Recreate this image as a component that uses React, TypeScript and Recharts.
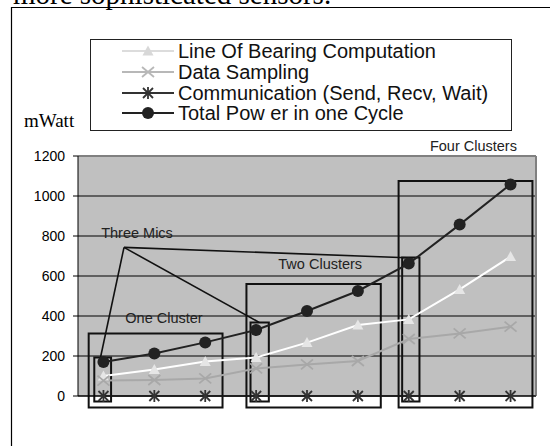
import React from 'react';
import {
  LineChart,
  Line,
  XAxis,
  YAxis,
  CartesianGrid,
  Legend,
  ReferenceArea,
  ReferenceLine,
  ReferenceDot,
} from 'recharts';

// ---- data ----
const steps = [1, 2, 3, 4, 5, 6, 7, 8, 9];
const lineOfBearing = [100, 133, 172, 193, 267, 355, 383, 533, 697];
const dataSampling = [77, 80, 88, 138, 158, 175, 285, 313, 347];
const communication = [0, 0, 0, 0, 0, 0, 0, 0, 0];
const totalPower = [170, 213, 268, 330, 425, 525, 662, 857, 1058];
const yTicks = [0, 200, 400, 600, 800, 1000, 1200];
const xTicks = [0, 1, 2, 3, 4, 5, 6, 7, 8, 9];

const seriesKeys = ['lob', 'ds', 'comm', 'total'];
const seriesNames = [
  'Line Of Bearing Computation',
  'Data Sampling',
  'Communication (Send, Recv, Wait)',
  'Total Pow er in one Cycle',
];

// annotation boxes (data coordinates)
const boxX1 = [0.32, 0.21, 3.39, 3.31, 6.37, 6.3];
const boxX2 = [0.65, 2.84, 3.75, 5.95, 6.71, 8.93];
const boxY1 = [-28, -57, -28, -57, -28, -57];
const boxY2 = [193, 313, 368, 560, 692, 1075];

// "Three Mics" pointer lines
const apex = { x: 0.904, y: 743 };
const pointerEnds = [
  { x: 0.44, y: 190 },
  { x: 3.56, y: 368 },
  { x: 6.59, y: 690 },
];

const annotationLabels = ['Three Mics', 'One Cluster', 'Two Clusters', 'Four Clusters'];
const labelX = [1.16, 1.69, 4.76, 7.77];
const labelY = [816, 391, 663, 1250];

const data = steps.map((s, i) => ({
  step: s,
  x: i + 0.5,
  lob: lineOfBearing[i],
  ds: dataSampling[i],
  comm: communication[i],
  total: totalPower[i],
}));

const FONT = '"Liberation Sans", Arial, sans-serif';
const SERIF = '"Liberation Serif", "Times New Roman", serif';

// ---- markers ----
type M = { cx: number; cy: number };
const Triangle = ({ cx, cy, fill }: M & { fill: string }) => (
  <path d={`M${cx},${cy - 5.5} L${cx + 5.5},${cy + 4.5} L${cx - 5.5},${cy + 4.5} Z`} fill={fill} />
);
const Cross = ({ cx, cy, stroke }: M & { stroke: string }) => (
  <g stroke={stroke} strokeWidth={1.8}>
    <line x1={cx - 6} y1={cy - 5} x2={cx + 6} y2={cy + 5} />
    <line x1={cx - 6} y1={cy + 5} x2={cx + 6} y2={cy - 5} />
  </g>
);
const Asterisk = ({ cx, cy, stroke }: M & { stroke: string }) => (
  <g stroke={stroke} strokeWidth={1.8}>
    <line x1={cx} y1={cy - 6} x2={cx} y2={cy + 6} />
    <line x1={cx - 5} y1={cy - 5} x2={cx + 5} y2={cy + 5} />
    <line x1={cx - 5} y1={cy + 5} x2={cx + 5} y2={cy - 5} />
  </g>
);
const Circle = ({ cx, cy, fill }: M & { fill: string }) => <circle cx={cx} cy={cy} r={6} fill={fill} />;

const markerFor = (key: string, cx: number, cy: number, legend = false) => {
  if (key === 'lob') return <Triangle cx={cx} cy={cy} fill={legend ? '#d8d8d8' : '#e6e6e6'} />;
  if (key === 'ds') return <Cross cx={cx} cy={cy} stroke={legend ? '#b8b8b8' : '#a8a8a8'} />;
  if (key === 'comm') return <Asterisk cx={cx} cy={cy} stroke="#333" />;
  return <Circle cx={cx} cy={cy} fill="#222" />;
};

const legendStroke: Record<string, string> = {
  lob: '#dcdcdc',
  ds: '#b8b8b8',
  comm: '#333',
  total: '#222',
};

const makeDot = (key: string) => (p: any) => {
  if (p.cx == null || p.cy == null) return <g key={p.index} />;
  return <g key={`${key}-${p.index}`}>{markerFor(key, p.cx, p.cy)}</g>;
};

const renderLegend = (props: any) => {
  const payload = [...(props.payload || [])].sort(
    (a: any, b: any) => seriesKeys.indexOf(String(a.dataKey)) - seriesKeys.indexOf(String(b.dataKey))
  );
  return (
    <div
      style={{
        width: '100%',
        height: '100%',
        boxSizing: 'border-box',
        border: '1px solid #222',
        background: '#fff',
        paddingTop: 1,
      }}
    >
      {payload.map((entry: any) => {
        const key = String(entry.dataKey);
        return (
          <div key={key} style={{ display: 'flex', alignItems: 'center', height: 20.7 }}>
            <svg width={52} height={20} style={{ marginLeft: 31, marginRight: 4, flex: 'none' }}>
              <line x1={0} y1={10} x2={52} y2={10} stroke={legendStroke[key]} strokeWidth={2} />
              {markerFor(key, 26, 10, true)}
            </svg>
            <span
              style={{
                fontFamily: FONT,
                fontSize: 20,
                lineHeight: '20px',
                whiteSpace: 'nowrap',
                color: '#111',
              }}
            >
              {entry.value}
            </span>
          </div>
        );
      })}
    </div>
  );
};

export default function App() {
  return (
    <div style={{ position: 'absolute', left: 0, top: 0, width: 559, height: 446, background: '#fff', overflow: 'hidden' }}>
      <svg width={559} height={446} style={{ position: 'absolute', left: 0, top: 0 }}>
        <text x={13} y={4} fontFamily={SERIF} fontSize={29} fill="#000">
          more sophisticated sensors.
        </text>
        <line x1={11.5} y1={7} x2={11.5} y2={446} stroke="#000" strokeWidth={1.2} />
        <line x1={11} y1={7.5} x2={550} y2={7.5} stroke="#000" strokeWidth={1.2} />
        <text x={24} y={127} fontFamily={SERIF} fontSize={19} fill="#000">
          mWatt
        </text>
      </svg>
      <div style={{ position: 'absolute', left: 0, top: 0 }}>
        <LineChart
          width={559}
          height={446}
          data={data}
          margin={{ top: 156, right: 23, bottom: 30, left: 0 }}
        >
          <CartesianGrid vertical={false} stroke="#000" fill="#c0c0c0" fillOpacity={1} />
          <XAxis
            type="number"
            dataKey="x"
            domain={[0, 9]}
            ticks={xTicks}
            tick={false}
            tickSize={4}
            height={20}
            axisLine={{ stroke: '#000' }}
            tickLine={{ stroke: '#000' }}
          />
          <YAxis
            type="number"
            domain={[0, 1200]}
            ticks={yTicks}
            width={78}
            tickSize={5}
            tickMargin={8}
            axisLine={{ stroke: '#000' }}
            tickLine={{ stroke: '#000' }}
            tick={{ fontFamily: FONT, fontSize: 14, fill: '#000' }}
          />
          <ReferenceLine y={1200} stroke="#808080" strokeWidth={2} />
          <ReferenceLine x={9} stroke="#808080" strokeWidth={2} />
          <Legend
            layout="vertical"
            align="center"
            verticalAlign="middle"
            wrapperStyle={{ left: 90, top: 39, width: 422, height: 92 }}
            content={renderLegend}
          />
          <Line
            name={seriesNames[0]}
            dataKey="lob"
            stroke="#ffffff"
            strokeWidth={2}
            dot={makeDot('lob')}
            isAnimationActive={false}
          />
          <Line
            name={seriesNames[1]}
            dataKey="ds"
            stroke="#a8a8a8"
            strokeWidth={2}
            dot={makeDot('ds')}
            isAnimationActive={false}
          />
          <Line
            name={seriesNames[2]}
            dataKey="comm"
            stroke="#333"
            strokeWidth={1.5}
            dot={makeDot('comm')}
            isAnimationActive={false}
          />
          <Line
            name={seriesNames[3]}
            dataKey="total"
            stroke="#222"
            strokeWidth={2}
            dot={makeDot('total')}
            isAnimationActive={false}
          />
          {boxX1.map((x1, i) => (
            <ReferenceArea
              key={`box-${i}`}
              x1={x1}
              x2={boxX2[i]}
              y1={boxY1[i]}
              y2={boxY2[i]}
              fill="none"
              fillOpacity={0}
              stroke="#111"
              strokeWidth={2}
              ifOverflow="visible"
            />
          ))}
          {pointerEnds.map((e, i) => (
            <ReferenceLine
              key={`ptr-${i}`}
              segment={[apex, e]}
              stroke="#111"
              strokeWidth={1.6}
              ifOverflow="visible"
            />
          ))}
          {annotationLabels.map((t, i) => (
            <ReferenceDot
              key={`lbl-${i}`}
              x={labelX[i]}
              y={labelY[i]}
              r={0}
              fill="none"
              stroke="none"
              ifOverflow="visible"
              label={{ value: t, position: 'center', fontFamily: FONT, fontSize: 14.5, fill: '#222' }}
            />
          ))}
        </LineChart>
      </div>
    </div>
  );
}
